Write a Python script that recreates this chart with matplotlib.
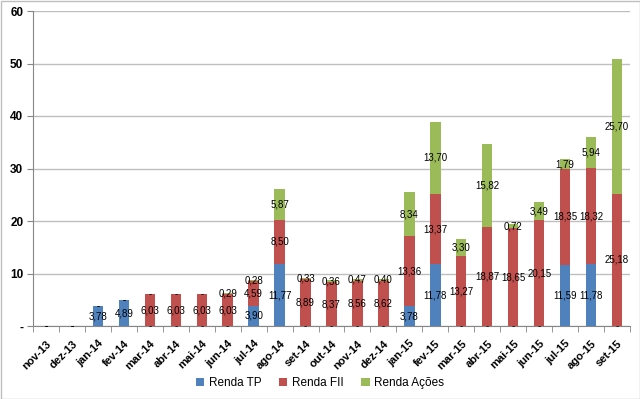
import matplotlib
matplotlib.use("Agg")
import matplotlib.pyplot as plt
from matplotlib.patches import Rectangle
import numpy as np

months = ["nov-13", "dez-13", "jan-14", "fev-14", "mar-14", "abr-14", "mai-14", "jun-14",
          "jul-14", "ago-14", "set-14", "out-14", "nov-14", "dez-14", "jan-15", "fev-15",
          "mar-15", "abr-15", "mai-15", "jun-15", "jul-15", "ago-15", "set-15"]
renda_tp = [0, 0, 3.78, 4.89, 0, 0, 0, 0, 3.90, 11.77, 0, 0, 0, 0, 3.78, 11.78,
            0, 0, 0, 0, 11.59, 11.78, 0]
renda_fii = [0, 0, 0, 0, 6.03, 6.03, 6.03, 6.03, 4.59, 8.50, 8.89, 8.37, 8.56, 8.62,
             13.36, 13.37, 13.27, 18.87, 18.65, 20.15, 18.35, 18.32, 25.18]
renda_acoes = [0, 0, 0, 0, 0, 0, 0, 0.29, 0.28, 5.87, 0.33, 0.36, 0.47, 0.40, 8.34,
               13.70, 3.30, 15.82, 0.72, 3.49, 1.79, 5.94, 25.70]
series_names = ["Renda TP", "Renda FII", "Renda Ações"]
yticks = [0, 10, 20, 30, 40, 50, 60]
ytick_labels = ["-", "10", "20", "30", "40", "50", "60"]

colors = ["#4F81BD", "#C0504D", "#9BBB59"]

plt.rcParams['font.family'] = ['Liberation Sans', 'DejaVu Sans']

fig = plt.figure(figsize=(6.4, 3.99), dpi=100)
ax = fig.add_axes([33/640, 1-326/399, (630-33)/640, (326-11)/399])

x = np.arange(len(months))
w = 0.4
bottom = np.zeros(len(months))

def fmt(v):
    return "-" if v == 0 else f"{v:.2f}".replace('.', ',')

for vals, c, name in zip([renda_tp, renda_fii, renda_acoes], colors, series_names):
    vals = np.array(vals)
    bars = ax.bar(x, vals, w, bottom=bottom, color=c, label=name, zorder=3)
    ax.bar_label(bars, labels=[fmt(v) for v in vals], label_type='center',
                 fontsize=7, color='black', zorder=5)
    bottom = bottom + vals

ax.set_xlim(-0.5, len(months) - 0.5)
ax.set_ylim(0, 60)
ax.set_yticks(yticks)
ax.set_yticklabels(ytick_labels, fontsize=8.5, fontweight='bold')
ax.yaxis.grid(True, color='#BEBEBE', linewidth=1, zorder=0)
ax.set_axisbelow(True)

ax.set_xticks(x)
ax.set_xticklabels(months, rotation=45, ha='right', rotation_mode='anchor',
                   fontsize=8, fontweight='bold')
ax.tick_params(axis='x', length=0, pad=9)
ax.set_xticks(np.arange(-0.5, len(months)), minor=True)
ax.tick_params(axis='x', which='minor', length=4, color='#868686')
ax.tick_params(axis='y', length=4, color='#868686', pad=3)

for s in ['top', 'right']:
    ax.spines[s].set_visible(False)
ax.spines['left'].set_color('#868686')
ax.spines['bottom'].set_color('#868686')

leg = fig.legend(loc='center', bbox_to_anchor=(0.5, 1-383/399), ncol=3, frameon=False,
                 fontsize=8.5, handlelength=0.7, handleheight=0.7, columnspacing=1.5,
                 handletextpad=0.4)

fig.patches.append(Rectangle((0.5/640, 0.5/399), 1-1/640, 1-1/399, transform=fig.transFigure,
                             fill=False, edgecolor='#BFBFBF', linewidth=1))

fig.savefig("out.png", dpi=100)
